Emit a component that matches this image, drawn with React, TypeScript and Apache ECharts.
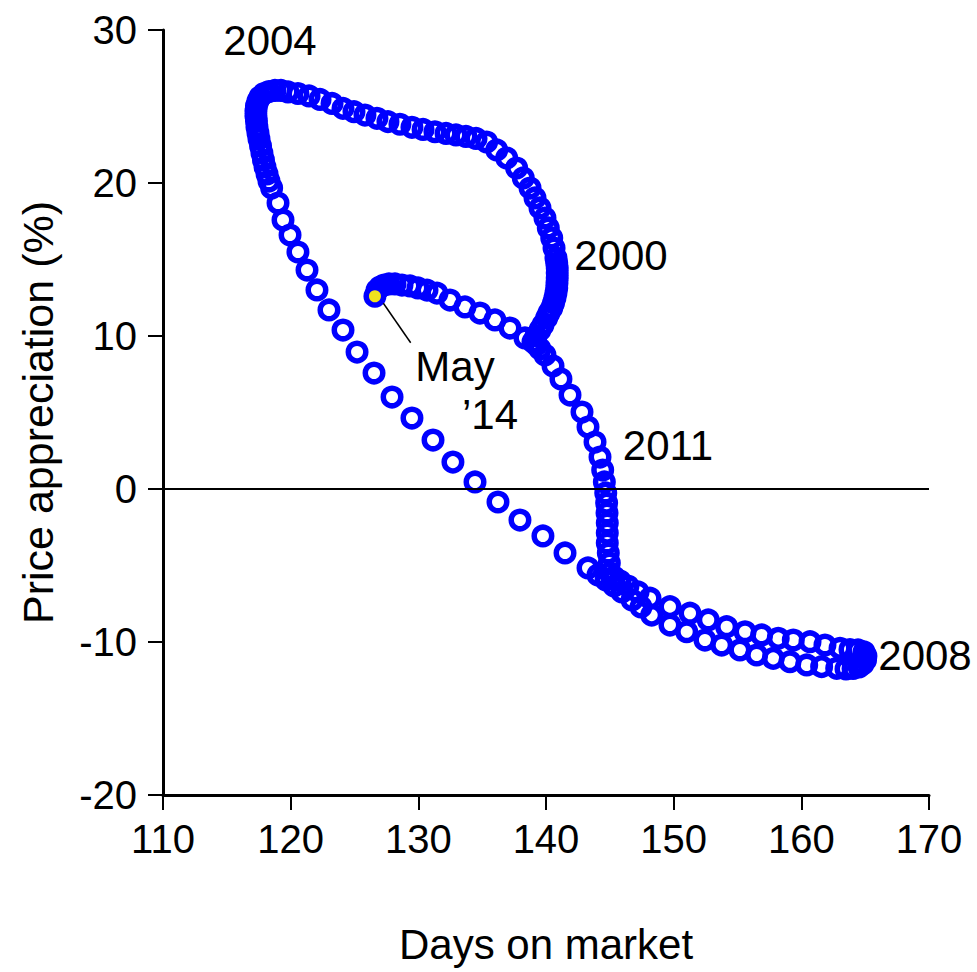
import React, { useEffect, useRef } from "react";
import * as echarts from "echarts";

// Days on market (x) and price appreciation in % (y), monthly path, in time order
const days: number[] = [
  // late 1990s / 2000 arc rising
  138.98, 139.22, 139.53, 139.76, 140.05, 140.23, 140.45, 140.59, 140.7, 140.78,
  140.84, 140.86, 140.88, 140.88, 140.88, 140.84, 140.78, 140.63, 140.45, 140.18,
  139.92, 139.53, 139.14, 138.75, 138.22, 137.7, 136.92, 136.14, 135.35,
  // top arc heading to 2004
  134.52, 133.73, 132.95, 132.17, 131.3, 130.37, 129.5, 128.56, 127.62, 126.76,
  125.82, 124.96, 124.1, 123.24, 122.3, 121.44, 120.57, 119.79,
  // 2004-2005 corner
  119.24, 118.77, 118.3, 117.91, 117.6, 117.44, 117.32, 117.28, 117.28, 117.32,
  117.36, 117.44, 117.52, 117.64, 117.75, 117.87, 117.99, 118.15, 118.3,
  // 2006-2007 slide
  118.51, 119.01, 119.4, 119.95, 120.57, 121.28, 122.06, 123.0, 124.1, 125.2,
  126.53, 127.94, 129.5, 131.15, 132.71, 134.44, 136.24, 137.96, 139.76, 141.49,
  143.29,
  // out to 2008
  144.07, 144.7, 145.33, 145.95, 146.74, 147.44, 148.28, 149.71, 151.02, 152.45,
  153.76, 155.19, 156.5, 157.8, 159.11, 160.42, 161.59, 162.77, 163.5, 164.05,
  164.52, 164.83, 165.03, 165.06, 164.91,
  // back and up through 2011
  164.44, 163.81, 163.03, 161.85, 160.68, 159.37, 158.19, 156.89, 155.59, 154.15,
  152.71, 151.28, 149.71, 148.15, 147.21, 146.42, 145.8, 145.33, 145.01, 144.96,
  144.88, 144.8, 144.8, 144.8, 144.78, 144.75, 144.68, 144.57, 144.44, 144.23,
  143.84, 143.29, 142.82, 141.88, 141.17, 140.55, 139.92, 139.53,
  // to May 2014
  139.26, 138.35, 137.18, 136.0, 134.83, 133.65, 132.48, 131.46, 130.68, 129.97,
  129.35, 128.72, 128.17, 127.7, 127.31, 127.0, 126.76, 126.6,
];

const appreciation: number[] = [
  9.61, 10.0, 10.39, 10.72, 11.18, 11.5, 11.83, 12.16, 12.48, 12.81,
  13.14, 13.46, 13.79, 14.12, 14.44, 14.77, 15.1, 15.75, 16.41, 17.06,
  17.71, 18.37, 19.02, 19.67, 20.33, 20.98, 21.63, 22.16, 22.68,
  22.91, 23.04, 23.14, 23.24, 23.35, 23.5, 23.64, 23.84, 24.01, 24.23,
  24.44, 24.66, 24.88, 25.2, 25.46, 25.69, 25.85, 25.95,
  26.05, 26.05, 25.98, 25.85, 25.62, 25.36, 25.03, 24.71, 24.38, 24.05,
  23.66, 23.27, 22.88, 22.42, 21.96, 21.5, 21.05, 20.59, 20.13,
  19.67, 18.69, 17.58, 16.6, 15.49, 14.31, 13.01, 11.7, 10.39, 8.95,
  7.58, 6.01, 4.64, 3.2, 1.76, 0.46, -0.85, -2.03, -3.07, -4.18,
  -5.16,
  -5.62, -5.95, -6.34, -6.73, -7.25, -7.71, -8.24, -8.89, -9.33, -9.87,
  -10.2, -10.52, -10.85, -11.07, -11.29, -11.5, -11.61, -11.72, -11.76, -11.73,
  -11.63, -11.44, -11.18, -10.92, -10.65,
  -10.52, -10.49, -10.41, -10.2, -9.98, -9.87, -9.76, -9.54, -9.33, -9.0,
  -8.56, -8.12, -7.69, -7.14, -6.73, -6.34, -6.01, -5.75, -5.49, -4.84,
  -4.18, -3.53, -2.88, -2.22, -1.57, -0.92, -0.26, 0.46, 1.24, 2.09,
  3.07, 4.05, 5.03, 6.14, 7.19, 8.04, 8.76, 9.15,
  9.41, 9.87, 10.52, 11.05, 11.5, 11.9, 12.35, 12.8, 13.0, 13.14,
  13.27, 13.33, 13.4, 13.4, 13.33, 13.2, 13.0, 12.6,
];

// Axis ranges / tick steps
const xRange = [110, 170];
const xStep = 10;
const yRange = [-20, 30];
const yStep = 10;

// Axis titles and annotation texts
const xTitle = "Days on market";
const yTitle = "Price appreciation (%)";
const annotations = ["2004", "2000", "May", "\u201914", "2011", "2008"];

// Callout line from the last point to the "May '14" label (data units)
const calloutDays = [127.26, 129.4];
const calloutAppreciation = [12.14, 9.56];

const FONT = '"Liberation Sans", Arial, Helvetica, sans-serif';

export default function App() {
  const ref = useRef<HTMLDivElement>(null);

  useEffect(() => {
    document.body.style.margin = "0";
    const chart = echarts.init(ref.current as HTMLDivElement, null, { renderer: "svg" });

    const last = days.length - 1;
    const data = days.map((d, i) =>
      i === last
        ? { value: [d, appreciation[i]], itemStyle: { color: "#F0E21E" } }
        : [d, appreciation[i]]
    );

    const annotationPos: [number, number][] = [
      [270, 40],
      [621, 255],
      [455, 366],
      [490, 414],
      [668, 445],
      [925, 655],
    ];

    chart.setOption({
      animation: false,
      grid: { left: 163, right: 48, top: 30, bottom: 177 },
      xAxis: {
        type: "value",
        min: xRange[0],
        max: xRange[1],
        interval: xStep,
        axisLine: { onZero: false, lineStyle: { color: "#000", width: 3 } },
        axisTick: { show: true, length: 15, lineStyle: { color: "#000", width: 2 } },
        axisLabel: { color: "#000", fontSize: 40, fontFamily: FONT, margin: 24 },
        splitLine: { show: false },
        name: xTitle,
        nameLocation: "middle",
        nameGap: 128,
        nameTextStyle: { color: "#000", fontSize: 42, fontFamily: FONT },
      },
      yAxis: {
        type: "value",
        min: yRange[0],
        max: yRange[1],
        interval: yStep,
        axisLine: { onZero: false, lineStyle: { color: "#000", width: 3 } },
        axisTick: { show: true, length: 15, lineStyle: { color: "#000", width: 2 } },
        axisLabel: { color: "#000", fontSize: 40, fontFamily: FONT, margin: 26 },
        splitLine: { show: false },
        name: yTitle,
        nameLocation: "middle",
        nameGap: 104,
        nameTextStyle: { color: "#000", fontSize: 43, fontFamily: FONT },
      },
      series: [
        {
          type: "scatter",
          data,
          symbol: "circle",
          symbolSize: 17.5,
          clip: false,
          itemStyle: {
            color: "transparent",
            borderColor: "#0000FF",
            borderWidth: 5.5,
            opacity: 1,
          },
          emphasis: { disabled: true },
          markLine: {
            silent: true,
            symbol: "none",
            label: { show: false },
            lineStyle: { color: "#000", width: 2, type: "solid" },
            data: [{ yAxis: 0 }],
          },
          z: 3,
        },
        {
          type: "line",
          data: calloutDays.map((d, i) => [d, calloutAppreciation[i]]),
          symbol: "none",
          lineStyle: { color: "#000", width: 1.5 },
          z: 4,
        },
      ],
      graphic: annotations.map((t, i) => ({
        type: "text",
        x: annotationPos[i][0],
        y: annotationPos[i][1],
        z: 10,
        style: {
          text: t,
          fill: "#000",
          fontSize: 42,
          fontFamily: FONT,
          align: "center",
          verticalAlign: "middle",
        },
      })),
    });

    return () => chart.dispose();
  }, []);

  return <div ref={ref} style={{ width: 977, height: 972 }} />;
}
